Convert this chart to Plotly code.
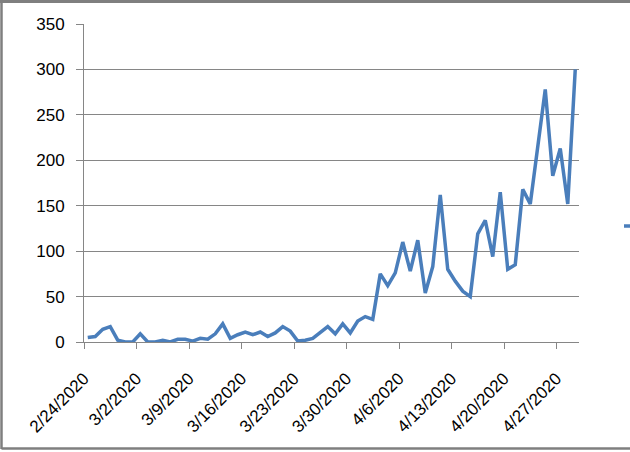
import pandas as pd
import plotly.graph_objects as go

start_date = "2020-02-24"
values = [5, 6, 14, 17, 2, 0, 0, 9, 0, 0, 2, 0, 3, 3, 1, 4, 3, 9, 20, 4,
          8, 11, 8, 11, 6, 10, 17, 12, 1, 2, 4, 11, 17, 9, 20, 10, 23, 28, 25, 75,
          62, 76, 110, 78, 112, 54, 83, 162, 80, 67, 56, 50, 119, 134, 94, 165, 80, 85, 168, 152,
          213, 278, 183, 213, 152, 300]
y_ticks = [0, 50, 100, 150, 200, 250, 300, 350]

dates = pd.date_range(start_date, periods=len(values), freq="D")
# Excel date axis: each point sits in the middle of its day cell
x_pos = dates + pd.Timedelta(hours=12)
x_start = dates[0]
x_end = dates[-1] + pd.Timedelta(days=1)

W, H = 630, 452
L, R, T, B = 84, 51, 24, 110
pw, ph = W - L - R, H - T - B

def px(xp):
    return (xp - L) / pw

def py(yp):
    return (H - B - yp) / ph

fig = go.Figure()
fig.add_trace(go.Scatter(
    x=x_pos, y=values, mode="lines", name=" ",
    line=dict(color="#4A7EBB", width=3.5),
    showlegend=True,
))

border = dict(color="#7F7F7F", width=2.5)
font_family = "Liberation Sans"
fig.update_layout(
    width=W, height=H,
    margin=dict(l=L, r=R, t=T, b=B, autoexpand=False),
    paper_bgcolor="white", plot_bgcolor="white",
    font=dict(family=font_family, size=17, color="#000000"),
    showlegend=True,
    legend=dict(x=px(619), y=py(226), xanchor="left", yanchor="middle",
                bgcolor="rgba(0,0,0,0)", borderwidth=0,
                font=dict(size=12)),
    xaxis=dict(
        type="date",
        range=[x_start, x_end],
        tick0=start_date, dtick=7 * 86400000,
        tickformat="%-m/%-d/%Y",
        tickangle=-45,
        showgrid=False,
        showline=True, linecolor="#868686", linewidth=1,
        ticks="outside", ticklen=6, tickcolor="#868686",
        ticklabelstandoff=13,
        tickfont=dict(size=17),
        zeroline=False,
    ),
    yaxis=dict(
        range=[0, 350],
        tickvals=y_ticks,
        showgrid=True, gridcolor="#868686", gridwidth=1,
        showline=True, linecolor="#868686", linewidth=1,
        ticks="outside", ticklen=7, tickcolor="#868686",
        ticklabelstandoff=8,
        tickfont=dict(size=17),
        zeroline=False,
    ),
    shapes=[
        dict(type="line", xref="paper", yref="paper",
             x0=px(1.5), x1=px(1.5), y0=py(1), y1=py(449), line=border),
        dict(type="line", xref="paper", yref="paper",
             x0=px(1.5), x1=px(640), y0=py(448.5), y1=py(448.5), line=border),
    ],
)

post = (
    "document.body.style.margin='0';"
    "document.body.style.overflow='hidden';"
    "var tb=document.createElement('div');"
    "tb.style.cssText='position:fixed;left:0;top:0;width:100%;height:3px;"
    "background:#7F7F7F;z-index:9999;pointer-events:none';"
    "document.body.appendChild(tb);"
)
fig.write_html("out.html", config={"displayModeBar": False}, post_script=post)
